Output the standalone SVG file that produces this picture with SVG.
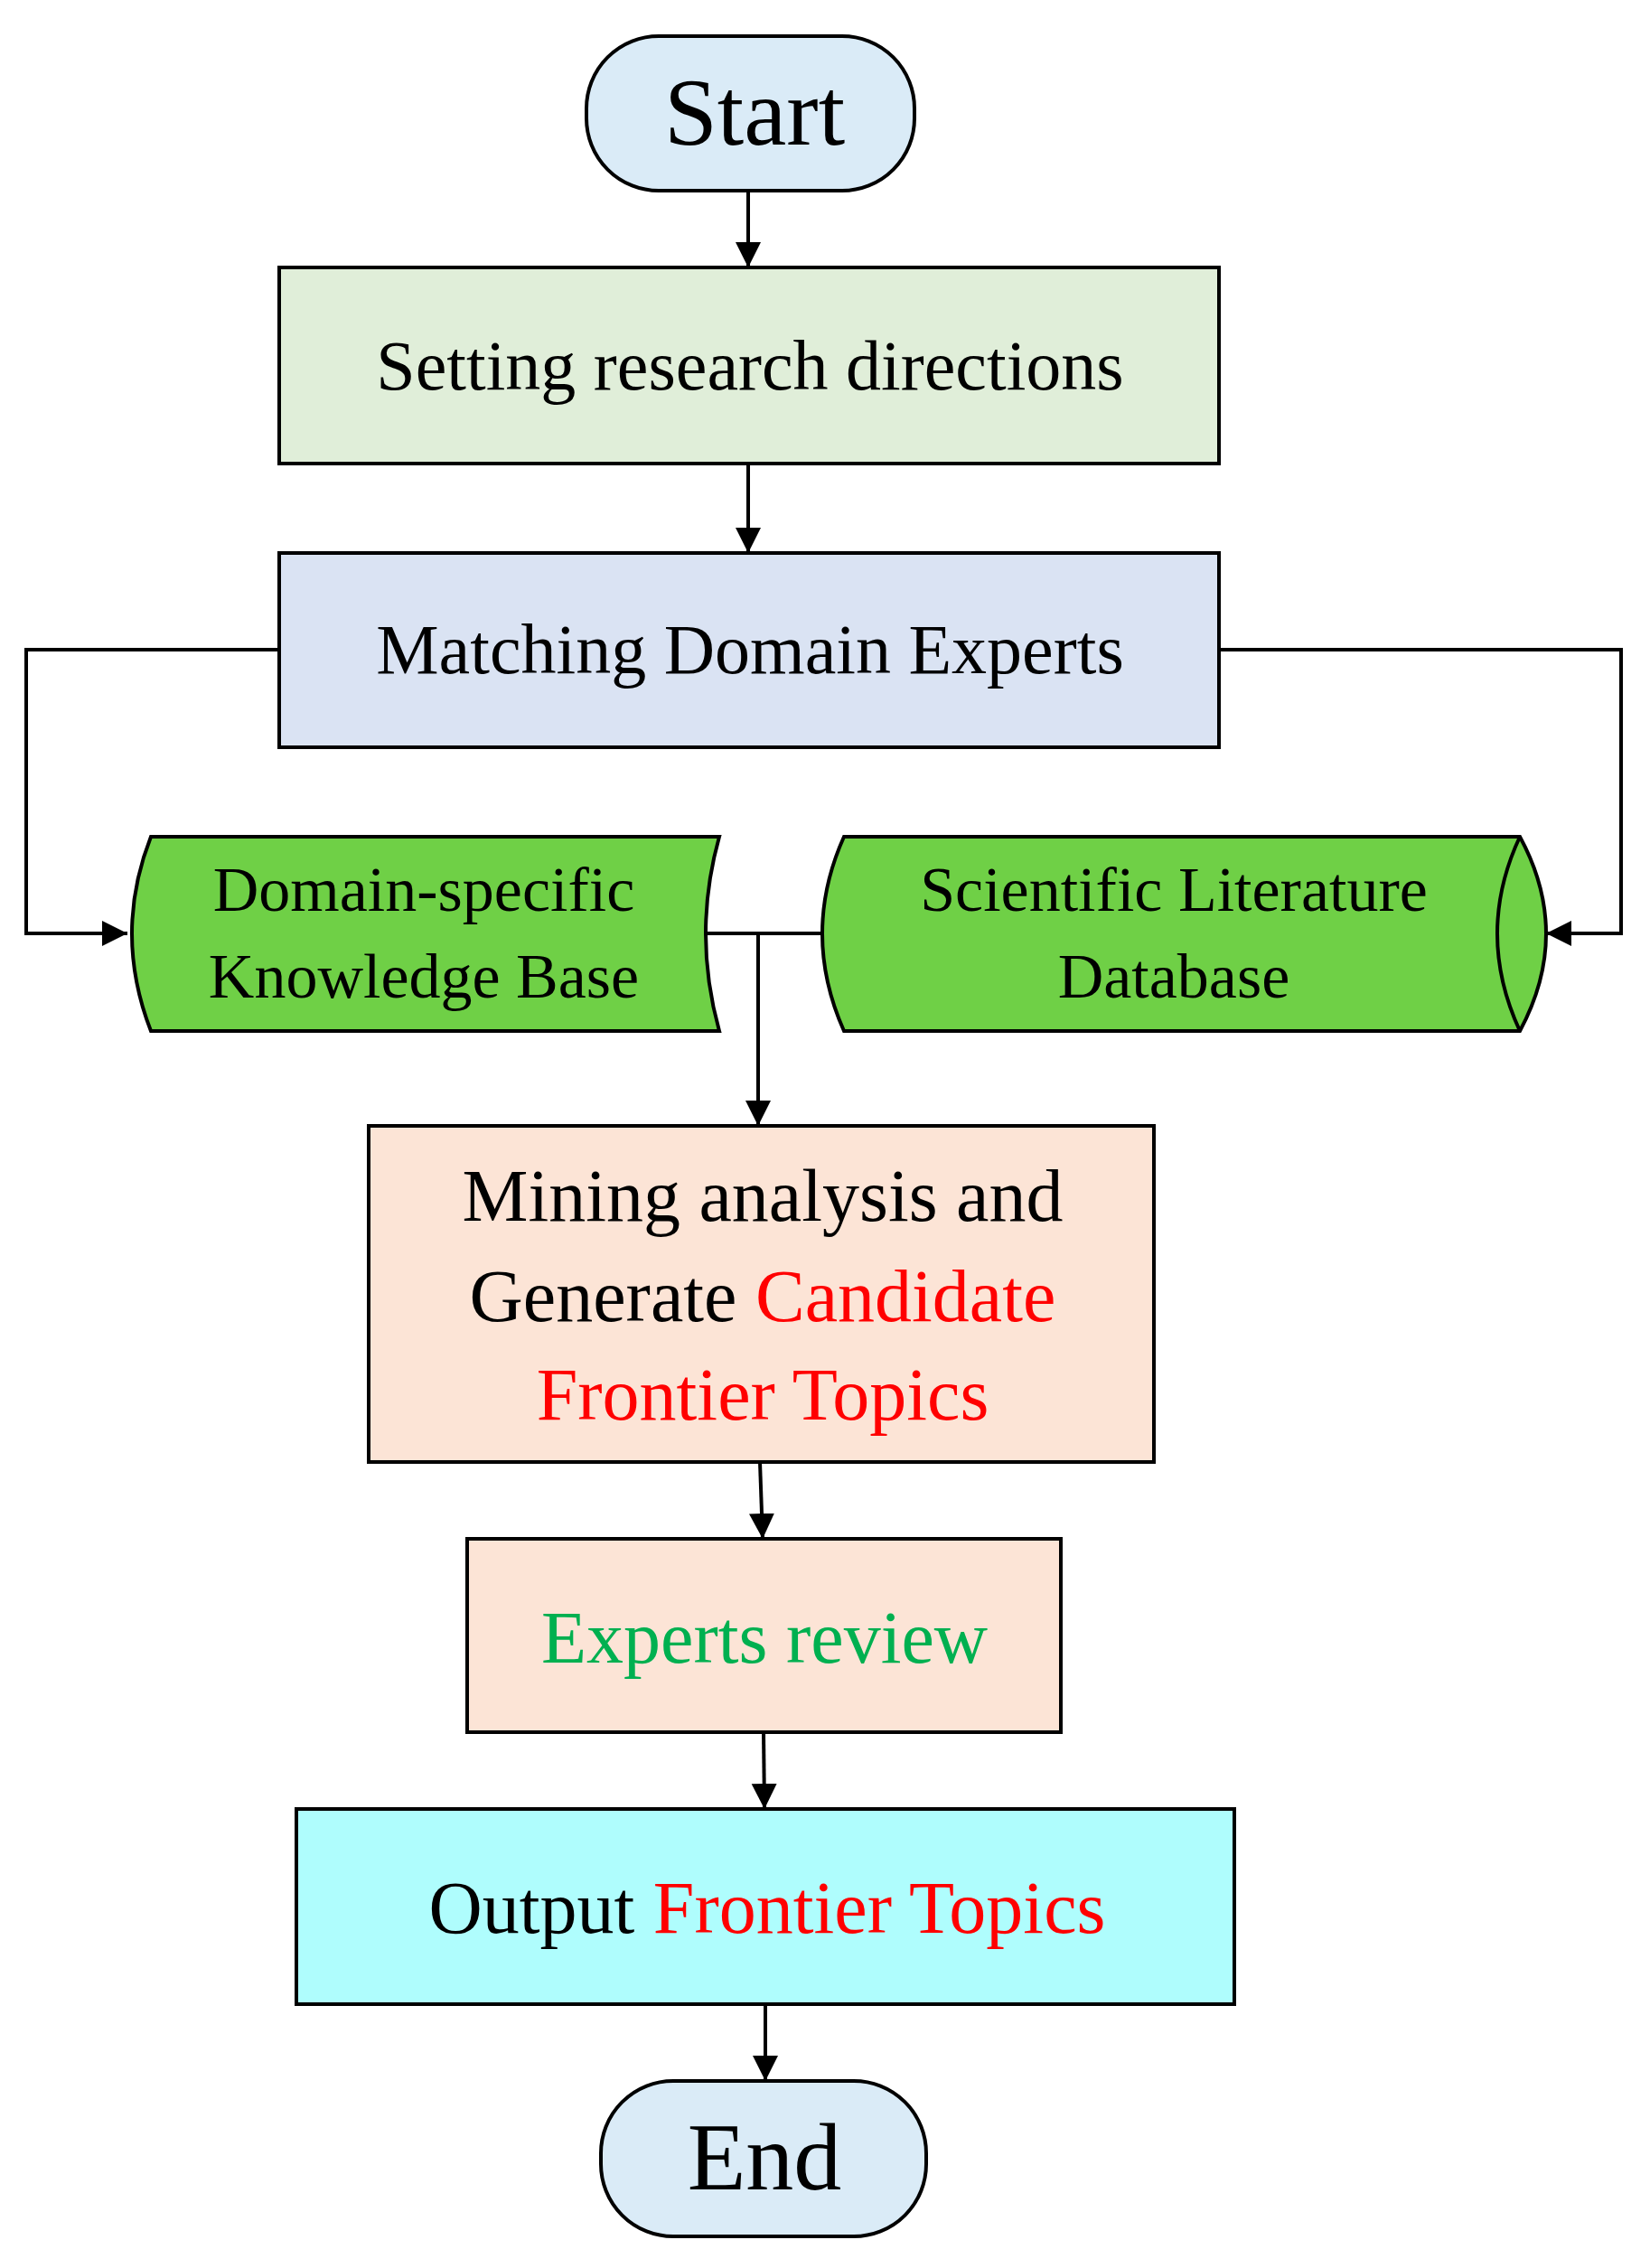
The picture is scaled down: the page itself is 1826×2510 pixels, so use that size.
<svg xmlns="http://www.w3.org/2000/svg" width="1826" height="2510" viewBox="0 0 1826 2510">
<style>
.n{stroke:#000;stroke-width:4}
text{font-family:"Liberation Serif","Times New Roman",serif;text-anchor:middle;fill:#000}
.c{fill:none;stroke:#000;stroke-width:4}
.r{fill:#FF0000}.g{fill:#00B050}
</style>
<defs><marker id="a" viewBox="0 0 10 10" refX="10" refY="5" markerWidth="9" markerHeight="9" markerUnits="userSpaceOnUse" orient="auto"><path d="M0,0L10,5L0,10z" fill="#000"/></marker>
<marker id="b" viewBox="0 0 10 10" refX="10" refY="5" markerWidth="7" markerHeight="9" orient="auto"><path d="M0,0L10,5L0,10z" fill="#000"/></marker></defs>
<rect width="1826" height="2510" fill="#fff"/>
<g id="connectors">
<path class="c" marker-end="url(#b)" d="M828,212V296"/>
<path class="c" marker-end="url(#b)" d="M828,513V612"/>
<path class="c" marker-end="url(#b)" d="M309,719H29V1033H141"/>
<path class="c" marker-end="url(#b)" d="M1349,719H1794V1033H1711"/>
<path class="c" d="M769,1033H910"/>
<path class="c" marker-end="url(#b)" d="M839,1033V1246"/>
<path class="c" marker-end="url(#b)" d="M841,1618L844,1703"/>
<path class="c" marker-end="url(#b)" d="M845,1917L846,2002"/>
<path class="c" marker-end="url(#b)" d="M847,2218L847,2303"/>
</g>
<g id="start"><rect class="n" x="649" y="40" width="363" height="171" rx="80" fill="#DAEBF7"/><text x="835" y="160" font-size="106">Start</text></g>
<g id="setting"><rect class="n" x="309" y="296" width="1040" height="217" fill="#E0EED9"/><text x="830" y="431" font-size="78">Setting research directions</text></g>
<g id="matching"><rect class="n" x="309" y="612" width="1040" height="215" fill="#DAE3F3"/><text x="830" y="745" font-size="78">Matching Domain Experts</text></g>
<g id="kb"><path class="n" fill="#6FD046" d="M167,926H796Q766,1033 796,1141H167Q125,1033 167,926Z"/><text x="469" y="1008" font-size="70">Domain-specific</text><text x="469" y="1104" font-size="70">Knowledge Base</text></g>
<g id="db"><path class="n" fill="#6FD046" d="M934,926H1682Q1740,1033 1682,1141H934Q886,1033 934,926Z"/><path class="n" fill="none" d="M1682,926Q1632,1033 1682,1141"/><text x="1299" y="1008" font-size="70">Scientific Literature</text><text x="1299" y="1104" font-size="70">Database</text></g>
<g id="mining"><rect class="n" x="408" y="1246" width="869" height="372" fill="#FCE4D6"/><text x="844" y="1351" font-size="82">Mining analysis and</text><text x="844" y="1462" font-size="82"><tspan>Generate  </tspan><tspan class="r">Candidate</tspan></text><text x="844" y="1571" font-size="82" class="r">Frontier Topics</text></g>
<g id="review"><rect class="n" x="517" y="1703" width="657" height="214" fill="#FCE4D6"/><text x="846" y="1840" font-size="82" class="g">Experts review</text></g>
<g id="output"><rect class="n" x="328" y="2002" width="1038" height="216" fill="#AFFDFD"/><text x="849" y="2139" font-size="82">Output <tspan class="r">Frontier Topics</tspan></text></g>
<g id="end"><rect class="n" x="665" y="2303" width="360" height="172" rx="80" fill="#DAEBF7"/><text x="846" y="2423" font-size="106">End</text></g>
</svg>
